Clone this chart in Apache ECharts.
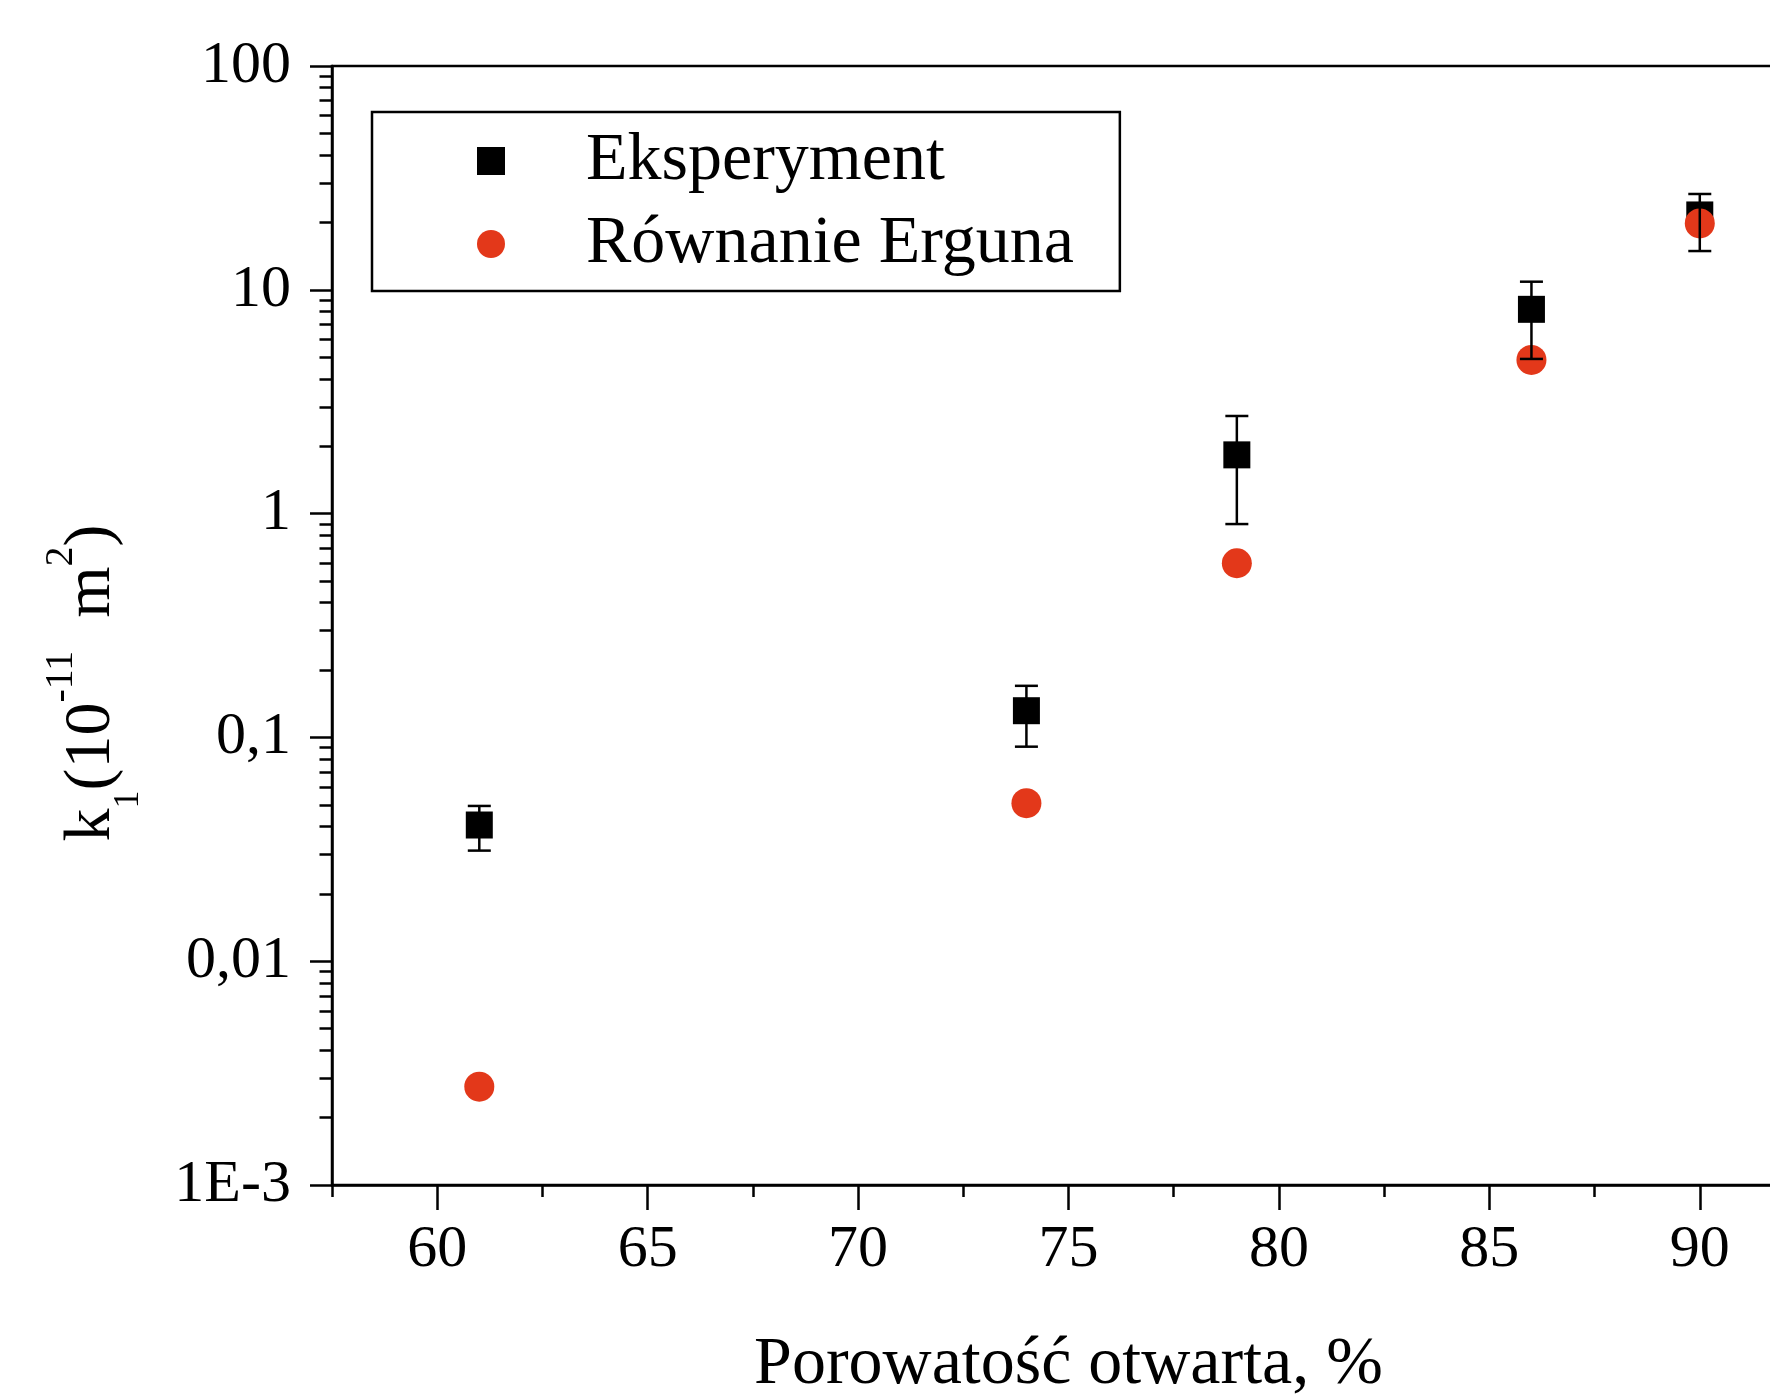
<!DOCTYPE html>
<html>
<head>
<meta charset="utf-8">
<script src="https://cdn.jsdelivr.net/npm/echarts@6/dist/echarts.min.js"></script>
<style>
html, body { margin: 0; padding: 0; overflow: hidden; background: #fff; }
#chart { width: 1900px; height: 1394px; }
</style>
</head>
<body>
<div id="chart"></div>
<script>
// ---- data ----
const porosity = [61, 74, 79, 86, 90];
const expValues = [0.0406, 0.1316, 1.83, 8.18, 21.6];
const expErrLow = [0.0312, 0.0909, 0.898, 4.91, 14.9];
const expErrHigh = [0.0494, 0.170, 2.73, 10.87, 26.8];
const ergunValues = [0.00275, 0.0508, 0.600, 4.86, 19.8];

const xMajorTicks = [60, 65, 70, 75, 80, 85, 90];
const xMinorTicks = [57.5, 62.5, 67.5, 72.5, 77.5, 82.5, 87.5, 92.5];
const yTickValues = [0.001, 0.01, 0.1, 1, 10, 100];
const yTickLabels = ['1E-3', '0,01', '0,1', '1', '10', '100'];
const yMinorMantissas = [2, 3, 4, 5, 6, 7, 8, 9];

const seriesNames = ['Eksperyment', 'Równanie Erguna'];
const xTitle = 'Porowatość otwarta, %';

// ---- build ----
const FONT = 'Liberation Serif';
const RED = '#e3381a';

const yMinorLog = [];
for (let k = -3; k <= 1; k++) {
  yMinorMantissas.forEach(m => yMinorLog.push(Math.log10(m) + k));
}

const expData = porosity.map((x, i) => [x, expValues[i]]);
const ergData = porosity.map((x, i) => [x, ergunValues[i]]);
const errData = porosity.map((x, i) => [x, expErrLow[i], expErrHigh[i]]);

function yLabel(v) {
  let best = 0, bd = Infinity;
  yTickValues.forEach((t, i) => {
    const d = Math.abs(Math.log10(v) - Math.log10(t));
    if (d < bd) { bd = d; best = i; }
  });
  return yTickLabels[best];
}

function renderErr(params, api) {
  const x = api.value(0), lo = api.value(1), hi = api.value(2);
  const pLo = api.coord([x, lo]);
  const pHi = api.coord([x, hi]);
  const hw = 11.5;
  const st = { stroke: '#000', lineWidth: 2.5 };
  return {
    type: 'group',
    children: [
      { type: 'line', shape: { x1: pLo[0], y1: pLo[1], x2: pHi[0], y2: pHi[1] }, style: st },
      { type: 'line', shape: { x1: pHi[0] - hw, y1: pHi[1], x2: pHi[0] + hw, y2: pHi[1] }, style: st },
      { type: 'line', shape: { x1: pLo[0] - hw, y1: pLo[1], x2: pLo[0] + hw, y2: pLo[1] }, style: st }
    ]
  };
}

const chart = echarts.init(document.getElementById('chart'), null, { renderer: 'canvas' });

const option = {
  animation: false,
  backgroundColor: '#fff',
  grid: {
    left: 332, top: 66, width: 1473, height: 1119,
    containLabel: false,
    outerBoundsMode: 'none',
    show: true, borderColor: '#000', borderWidth: 2.5, backgroundColor: 'transparent'
  },
  legend: {
    left: 372, top: 112,
    orient: 'vertical',
    padding: [14, 46, 12, 105],
    itemGap: 13,
    itemWidth: 28,
    itemHeight: 28,
    borderColor: '#000',
    borderWidth: 2.5,
    selectedMode: false,
    textStyle: { fontFamily: FONT, fontSize: 68, color: '#000', lineHeight: 70, padding: [0, 0, 0, 76] },
    data: [
      { name: seriesNames[0], icon: 'rect', itemStyle: { color: '#000', opacity: 1 } },
      { name: seriesNames[1], icon: 'circle', itemStyle: { color: RED, opacity: 1 } }
    ]
  },
  xAxis: [
    {
      type: 'value', min: 57.5, max: 92.5, position: 'bottom',
      name: xTitle, nameLocation: 'middle', nameGap: 146,
      nameTextStyle: { fontFamily: FONT, fontSize: 68, color: '#000' },
      axisLine: { onZero: false, lineStyle: { color: '#000', width: 2.5 } },
      axisTick: { show: true, customValues: xMajorTicks, length: 25, lineStyle: { color: '#000', width: 2.5 } },
      axisLabel: { customValues: xMajorTicks, margin: 35, fontFamily: FONT, fontSize: 60, color: '#000' },
      splitLine: { show: false }
    },
    {
      type: 'value', min: 57.5, max: 92.5, position: 'bottom',
      axisLine: { show: false, onZero: false },
      axisTick: { show: true, customValues: xMinorTicks, length: 12, lineStyle: { color: '#000', width: 2.5 } },
      axisLabel: { show: false },
      splitLine: { show: false }
    }
  ],
  yAxis: [
    {
      type: 'log', logBase: 10, min: 0.001, max: 100, interval: 1, position: 'left',
      name: '{k|k}{sub|1}{k|(10}{sup|-11}{k|  m}{sup|2}{k|)}',
      nameLocation: 'middle', nameRotate: 90, nameGap: 205,
      nameMoveOverlap: false,
      nameTextStyle: {
        padding: [0, 115, 0, 0],
        rich: {
          k: { fontFamily: FONT, fontSize: 66, color: '#000', lineHeight: 70, verticalAlign: 'middle' },
          sup: { fontFamily: FONT, fontSize: 40, color: '#000', lineHeight: 40, padding: [0, 0, 62, 0], verticalAlign: 'middle' },
          sub: { fontFamily: FONT, fontSize: 36, color: '#000', lineHeight: 36, padding: [74, 0, 0, 0], verticalAlign: 'middle' }
        }
      },
      axisLine: { onZero: false, lineStyle: { color: '#000', width: 2.5 } },
      axisTick: { show: true, length: 22, lineStyle: { color: '#000', width: 2.5 } },
      axisLabel: { margin: 41, fontFamily: FONT, fontSize: 60, color: '#000', formatter: yLabel },
      splitLine: { show: false },
      minorTick: { show: false }
    },
    {
      type: 'value', min: -3, max: 2, position: 'left',
      axisLine: { show: false, onZero: false },
      axisTick: { show: true, customValues: yMinorLog, length: 12.5, lineStyle: { color: '#000', width: 2.5 } },
      axisLabel: { show: false },
      splitLine: { show: false }
    }
  ],
  series: [
    {
      name: seriesNames[0], type: 'scatter', data: expData,
      symbol: 'rect', symbolSize: 27,
      itemStyle: { color: '#000', opacity: 1 }, z: 2
    },
    {
      name: seriesNames[1], type: 'scatter', data: ergData,
      symbol: 'circle', symbolSize: 30,
      itemStyle: { color: RED, opacity: 1 }, z: 3
    },
    {
      name: 'err', type: 'custom', data: errData,
      renderItem: renderErr,
      encode: { x: 0, y: [1, 2] },
      z: 4
    }
  ]
};

chart.setOption(option);
</script>
</body>
</html>
